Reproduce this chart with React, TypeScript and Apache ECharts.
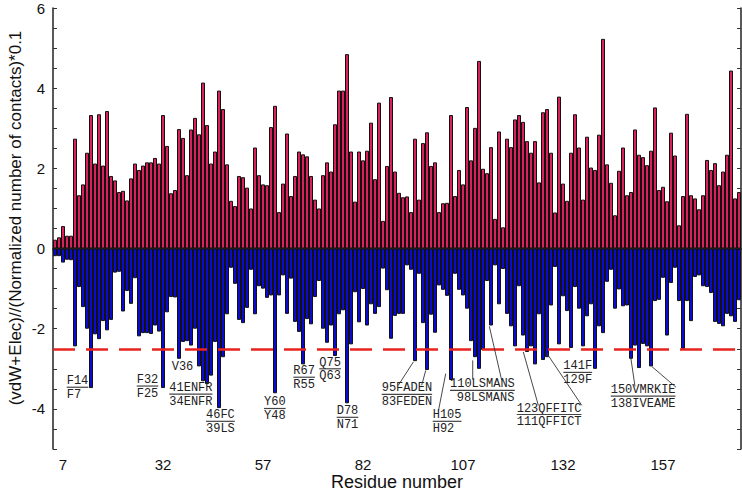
import { useEffect, useRef } from "react";
import * as echarts from "echarts";

// residues 5..176
const firstResidue = 5;
const positiveValues = [
  0.22, 0.28, 0.56, 0.32, 0.32, 2.74, 1.33, 1.6, 2.39, 3.33,
  2.12, 3.35, 2.07, 3.43, 1.81, 1.7, 1.41, 1.44, 1.2, 1.75,
  2.12, 1.96, 2.07, 2.15, 2.15, 2.26, 2.12, 3.33, 2.56, 1.38,
  1.46, 2.98, 2.76, 1.83, 2.97, 3.26, 2.85, 4.14, 3.08, 2.12,
  2.42, 3.94, 3.48, 2.1, 1.19, 1.06, 1.81, 1.78, 1.52, 1.0,
  2.52, 1.83, 1.6, 1.58, 3.03, 3.56, 0.91, 1.62, 2.87, 1.31,
  1.81, 2.42, 2.35, 2.3, 1.81, 1.22, 1.0, 1.83, 2.15, 1.92,
  3.1, 3.94, 3.94, 4.85, 2.42, 1.17, 2.42, 2.2, 2.44, 3.14,
  1.73, 3.64, 0.69, 2.06, 3.78, 1.92, 1.39, 1.28, 1.3, 0.91,
  2.74, 1.22, 2.63, 2.9, 2.06, 2.15, 0.91, 1.13, 1.14, 3.33,
  1.31, 1.96, 1.6, 3.53, 2.2, 3.01, 4.68, 1.99, 1.88, 2.53,
  0.74, 2.92, 0.53, 2.74, 2.53, 3.22, 3.33, 3.16, 2.68, 2.39,
  2.68, 1.65, 3.4, 3.48, 2.39, 0.9, 3.79, 1.62, 1.19, 2.39,
  3.35, 2.52, 1.22, 2.79, 2.02, 1.96, 2.84, 5.23, 2.1, 1.64,
  0.83, 1.94, 2.52, 1.33, 1.41, 2.97, 2.34, 2.28, 2.08, 2.44,
  3.52, 1.46, 1.54, 1.18, 2.89, 2.32, 0.58, 1.31, 3.36, 1.33,
  1.25, 0.98, 1.33, 2.21, 1.96, 2.13, 1.58, 1.92, 2.34, 4.44,
  1.25, 1.41,
];
const negativeValues = [
  -0.19, -0.19, -0.35, -0.28, -0.29, -2.44, -0.96, -1.46, -2.0, -3.48,
  -2.14, -2.26, -1.81, -2.04, -1.78, -0.6, -0.58, -1.57, -1.06, -1.38,
  -0.74, -2.19, -2.11, -2.11, -2.13, -1.92, -2.07, -3.48, -1.59, -1.21,
  -1.22, -2.75, -2.33, -2.31, -2.42, -2.0, -2.94, -3.31, -3.38, -3.17,
  -2.33, -3.98, -2.71, -1.64, -0.48, -0.88, -1.78, -1.86, -1.48, -0.53,
  -1.64, -0.94, -1.0, -1.23, -1.17, -3.61, -1.17, -0.67, -1.63, -0.75,
  -1.83, -2.08, -2.89, -1.76, -1.89, -1.21, -0.81, -2.0, -2.35, -1.92,
  -2.68, -1.64, -1.54, -3.86, -2.39, -1.09, -1.84, -1.01, -1.92, -1.39,
  -1.63, -1.46, -0.5, -1.04, -2.25, -1.68, -1.63, -1.63, -0.42, -0.53,
  -2.81, -0.63, -1.86, -3.03, -1.65, -2.1, -0.92, -1.03, -1.18, -3.28,
  -0.63, -1.03, -1.17, -1.5, -2.31, -2.71, -3.0, -2.53, -0.81, -1.92,
  -0.42, -1.39, -0.51, -1.63, -1.94, -2.44, -0.94, -2.17, -2.58, -2.44,
  -2.89, -1.64, -2.78, -2.71, -1.42, -0.46, -2.39, -1.19, -1.56, -2.48,
  -0.96, -1.5, -2.44, -1.69, -1.39, -3.0, -1.94, -2.11, -0.83, -0.53,
  -1.5, -1.02, -1.44, -1.42, -2.75, -2.42, -2.98, -2.38, -2.44, -2.94,
  -1.31, -1.28, -0.73, -2.17, -0.86, -0.48, -1.31, -2.5, -1.31, -1.81,
  -0.71, -0.67, -0.94, -0.96, -1.11, -1.83, -1.88, -1.94, -1.63, -1.69,
  -1.83, -1.29,
];
const xTickLabels = [7, 32, 57, 82, 107, 132, 157];
const yTickLabels = [-4, -2, 0, 2, 4, 6];
const cutoffValue = -2.5;
const yTitle = "(vdW+Elec)//(Normalized number of contacts)*0.1";
const xTitle = "Residue number";

type Ann = {
  top: string;
  bottom?: string;
  x: number;
  y: number;
  x2?: number;
  y2?: number;
  underline: boolean;
  leaders: number[][][];
};

const annotations: Ann[] = [
  { top: "F14", bottom: "F7", x: 7.93, y: -3.31, y2: -3.65, underline: true, leaders: [] },
  { top: "F32", bottom: "F25", x: 25.43, y: -3.28, y2: -3.62, underline: true, leaders: [] },
  { top: "V36", x: 34.18, y: -2.95, underline: false, leaders: [] },
  { top: "41ENFR", bottom: "34ENFR", x: 33.58, y: -3.48, y2: -3.82, underline: true, leaders: [] },
  { top: "46FC", bottom: "39LS", x: 42.75, y: -4.16, y2: -4.5, underline: true, leaders: [] },
  { top: "Y60", bottom: "Y48", x: 57.25, y: -3.84, y2: -4.18, underline: true, leaders: [] },
  { top: "R67", bottom: "R55", x: 64.58, y: -3.06, y2: -3.4, underline: true, leaders: [] },
  { top: "Q75", bottom: "Q63", x: 71.08, y: -2.85, y2: -3.19, underline: true, leaders: [] },
  { top: "D78", bottom: "N71", x: 75.43, y: -4.06, y2: -4.4, underline: true, leaders: [] },
  {
    top: "95FADEN", bottom: "83FEDEN", x: 86.68, y: -3.49, y2: -3.83, underline: true,
    leaders: [[[90.83, -3.41], [94.58, -2.83]], [[96.68, -3.41], [97.68, -3.04]]],
  },
  {
    top: "H105", bottom: "H92", x: 99.43, y: -4.16, y2: -4.5, underline: true,
    leaders: [[[100.83, -4.06], [102.68, -3.12]]],
  },
  {
    top: "110LSMANS", bottom: "98LSMANS", x: 103.75, y: -3.39, x2: 105.43, y2: -3.73, underline: true,
    leaders: [[[109.43, -3.27], [109.43, -2.79]], [[116.68, -3.29], [113.58, -1.94]]],
  },
  {
    top: "123QFFITC", bottom: "111QFFICT", x: 120.43, y: -3.99, y2: -4.33, underline: true,
    leaders: [[[125.83, -3.91], [122.08, -2.58]], [[136.68, -3.91], [127.93, -2.61]]],
  },
  { top: "141F", bottom: "129F", x: 132.08, y: -2.94, y2: -3.28, underline: true, leaders: [] },
  {
    top: "150VMRKIE", bottom: "138IVEAME", x: 143.93, y: -3.53, y2: -3.87, underline: true,
    leaders: [[[150.0, -3.44], [148.93, -2.71]], [[160.25, -3.46], [154.18, -2.94]]],
  },
];

export default function App() {
  const ref = useRef<HTMLDivElement>(null);
  useEffect(() => {
    if (!ref.current) return;
    const chart = echarts.init(ref.current, undefined, { renderer: "svg" });
    const xMin = firstResidue - 0.5;
    const xMax = firstResidue + positiveValues.length - 0.5;
    const posData = positiveValues.map((v, i) => [firstResidue + i, v]);
    const negData = negativeValues.map((v, i) => [firstResidue + i, v]);
    const minorTicks: number[] = [];
    for (let v = xTickLabels[0]; v < xMax; v += 2.5) minorTicks.push(v);
    const gridLeft = 53;
    const gridRight = 1;
    const gridW = 742 - gridLeft - gridRight;
    const barW = gridW / (xMax - xMin);
    const monoFont = '12px "Liberation Mono", "DejaVu Sans Mono", monospace';
    const charW = 7.2;
    const sans = "Liberation Sans, Arial, sans-serif";

    const xAxisCommon = {
      type: "value",
      min: xMin,
      max: xMax,
      splitLine: { show: false },
      axisLine: { show: true, lineStyle: { color: "#222", width: 1.5 } },
    };
    const yAxisCommon = {
      type: "value",
      min: -5,
      max: 6,
      interval: 0.5,
      splitLine: { show: false },
      axisLine: { show: true, lineStyle: { color: "#222", width: 1.5 } },
      axisTick: { show: true, inside: true, length: 4, lineStyle: { color: "#333" } },
    };

    chart.setOption({
      animation: false,
      backgroundColor: "#fff",
      grid: {
        left: gridLeft,
        right: gridRight,
        top: 8,
        bottom: 44,
        containLabel: false,
        outerBoundsMode: "none",
      },
      graphic: [
        {
          type: "text",
          x: 15,
          y: 218,
          rotation: Math.PI / 2,
          silent: true,
          style: {
            text: yTitle,
            font: "17px Liberation Sans, Arial, sans-serif",
            fill: "#111",
            align: "center",
            verticalAlign: "middle",
          },
        },
        {
          type: "text",
          x: gridLeft + gridW / 2,
          y: 482,
          silent: true,
          style: {
            text: xTitle,
            font: "18px Liberation Sans, Arial, sans-serif",
            fill: "#111",
            align: "center",
            verticalAlign: "middle",
          },
        },
      ],
      xAxis: [
        {
          ...xAxisCommon,
          position: "bottom",
          axisTick: {
            show: true,
            inside: true,
            length: 5,
            customValues: minorTicks,
            lineStyle: { color: "#333" },
          },
          axisLabel: {
            show: true,
            customValues: xTickLabels,
            fontSize: 15,
            color: "#111",
            margin: 8,
            fontFamily: sans,
          },
        },
        {
          ...xAxisCommon,
          position: "top",
          axisTick: {
            show: true,
            inside: true,
            length: 6,
            customValues: minorTicks,
            lineStyle: { color: "#333" },
          },
          axisLabel: { show: false },
        },
      ],
      yAxis: [
        {
          ...yAxisCommon,
          position: "left",
          axisLabel: {
            show: true,
            fontSize: 15,
            color: "#111",
            margin: 8,
            fontFamily: sans,
            formatter: (v: number) => (yTickLabels.includes(v) ? String(v) : ""),
          },
        },
        {
          ...yAxisCommon,
          position: "right",
          axisLabel: { show: false },
        },
      ],
      series: [
        {
          type: "bar",
          name: "positive",
          data: posData,
          xAxisIndex: 0,
          yAxisIndex: 0,
          barWidth: barW,
          barGap: "-100%",
          itemStyle: { color: "#DA2159", borderColor: "#111", borderWidth: 1 },
          silent: true,
        },
        {
          type: "bar",
          name: "negative",
          data: negData,
          xAxisIndex: 0,
          yAxisIndex: 0,
          barWidth: barW,
          barGap: "-100%",
          itemStyle: { color: "#0A0AD0", borderColor: "#111", borderWidth: 1 },
          silent: true,
          markLine: {
            silent: true,
            symbol: "none",
            label: { show: false },
            lineStyle: { color: "#E8231E", width: 2.5, type: [22, 11] },
            data: [{ yAxis: cutoffValue }],
            z: 10,
          },
        },
        {
          type: "custom",
          name: "annotations",
          xAxisIndex: 0,
          yAxisIndex: 0,
          silent: true,
          clip: false,
          z: 20,
          data: annotations.map((a) => [a.x, a.y]),
          encode: { x: 0, y: 1 },
          renderItem: (params: any, api: any) => {
            const a = annotations[params.dataIndex];
            const children: any[] = [];
            const p1 = api.coord([a.x, a.y]);
            children.push({
              type: "text",
              style: {
                text: a.top,
                x: p1[0],
                y: p1[1],
                font: monoFont,
                fill: "#222",
                align: "left",
                verticalAlign: "middle",
              },
            });
            if (a.underline) {
              const w = a.top.length * charW;
              children.push({
                type: "line",
                shape: { x1: p1[0], y1: p1[1] + 6, x2: p1[0] + w, y2: p1[1] + 6 },
                style: { stroke: "#444", lineWidth: 1.2 },
              });
            }
            if (a.bottom) {
              const p2 = api.coord([a.x2 ?? a.x, a.y2 ?? a.y]);
              children.push({
                type: "text",
                style: {
                  text: a.bottom,
                  x: p2[0],
                  y: p2[1],
                  font: monoFont,
                  fill: "#222",
                  align: "left",
                  verticalAlign: "middle",
                },
              });
            }
            for (const l of a.leaders) {
              const s = api.coord(l[0]);
              const e = api.coord(l[1]);
              children.push({
                type: "line",
                shape: { x1: s[0], y1: s[1], x2: e[0], y2: e[1] },
                style: { stroke: "#333", lineWidth: 0.9 },
              });
            }
            return { type: "group", children };
          },
        },
      ],
    });
    return () => chart.dispose();
  }, []);
  return (
    <div
      ref={ref}
      style={{ position: "fixed", left: 0, top: 0, width: 742, height: 493, background: "#fff" }}
    />
  );
}
